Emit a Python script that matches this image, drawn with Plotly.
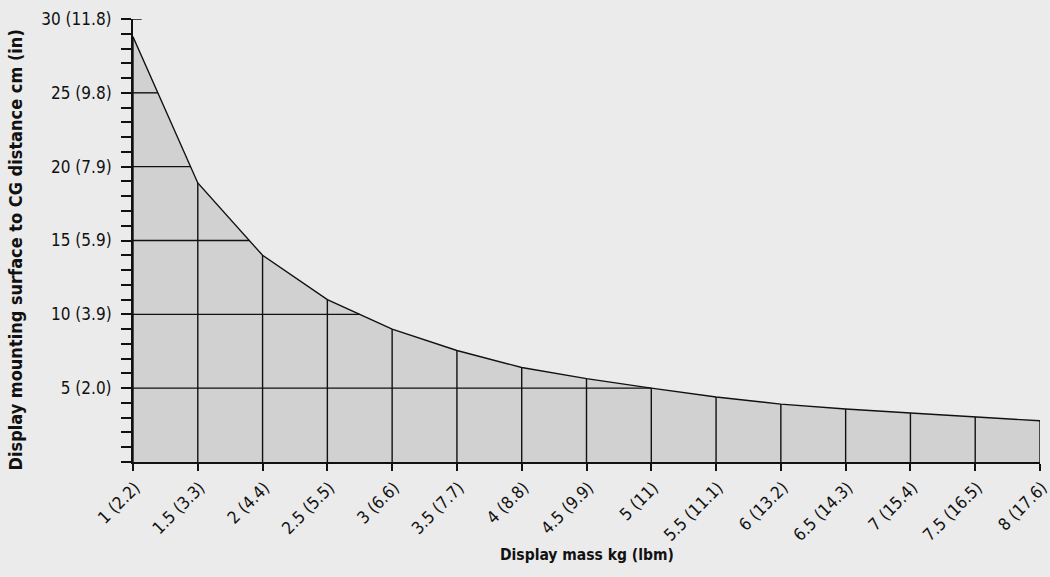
import numpy as np
import plotly.graph_objects as go

# Data
mass_kg = [1, 1.5, 2, 2.5, 3, 3.5, 4, 4.5, 5, 5.5, 6, 6.5, 7, 7.5, 8]
mass_labels = ["1 (2.2)", "1.5 (3.3)", "2 (4.4)", "2.5 (5.5)", "3 (6.6)", "3.5 (7.7)",
               "4 (8.8)", "4.5 (9.9)", "5 (11)", "5.5 (11.1)", "6 (13.2)", "6.5 (14.3)",
               "7 (15.4)", "7.5 (16.5)", "8 (17.6)"]
cg_distance_cm = [28.8, 18.9, 14.0, 11.0, 9.0, 7.55, 6.4, 5.65, 5.0, 4.4, 3.92, 3.59, 3.32, 3.05, 2.79]
y_major = [5, 10, 15, 20, 25, 30]
y_major_labels = ["5 (2.0)", "10 (3.9)", "15 (5.9)", "20 (7.9)", "25 (9.8)", "30 (11.8)"]
y_ticks_all = list(range(0, 31))

FONT = "DejaVu Sans Condensed, Liberation Sans Narrow, sans-serif"
BG = "#ebebeb"
FILL = "#d1d1d1"

fig = go.Figure()

# filled area
fig.add_trace(go.Scatter(
    x=mass_kg, y=cg_distance_cm, mode="lines", fill="tozeroy",
    fillcolor=FILL, line=dict(color="#111111", width=1.4), hoverinfo="skip",
    showlegend=False))

# grid segments only inside the area
gx, gy = [], []
for xv, yv in zip(mass_kg, cg_distance_cm):
    gx += [xv, xv, None]
    gy += [0, yv, None]
xs_rev = np.array(mass_kg[::-1], dtype=float)
ys_rev = np.array(cg_distance_cm[::-1], dtype=float)
for yv in y_major:
    if yv < max(cg_distance_cm):
        xe = float(np.interp(yv, ys_rev, xs_rev))
        gx += [mass_kg[0], xe, None]
        gy += [yv, yv, None]
fig.add_trace(go.Scatter(x=gx, y=gy, mode="lines",
                         line=dict(color="#111111", width=1.4),
                         hoverinfo="skip", showlegend=False))

ytext = [y_major_labels[y_major.index(v)] if v in y_major else "" for v in y_ticks_all]

fig.update_layout(
    width=1050, height=577,
    margin=dict(l=133, r=10, t=19, b=115),
    paper_bgcolor=BG, plot_bgcolor=BG,
    font=dict(family=FONT, size=17, color="#111111"),
    xaxis=dict(range=[1, 8], tickvals=mass_kg, ticktext=mass_labels,
               tickangle=-45, ticks="outside", ticklen=7, tickwidth=1.5,
               tickcolor="#111111", showline=True, linecolor="#111111",
               linewidth=2, showgrid=False, zeroline=False, automargin=False,
               ticklabeloverflow="allow",
               ticklabelstandoff=0, ticklabelshift=2, tickfont=dict(size=17)),
    yaxis=dict(range=[0, 30], tickvals=y_ticks_all, ticktext=ytext,
               ticks="outside", ticklen=10, tickwidth=1.5, tickcolor="#111111",
               showline=True, linecolor="#111111", linewidth=2, automargin=False,
               showgrid=False, zeroline=False, ticklabelstandoff=6,
               tickfont=dict(size=17)),
    shapes=[dict(type="line", xref="x domain", yref="y", x0=0, x1=0.0096,
                 y0=30, y1=30, line=dict(color="#111111", width=1.5))],
    annotations=[
        dict(text="<b>Display mass kg (lbm)</b>", xref="paper", yref="paper",
             x=0.5, y=0, yanchor="middle", yshift=-93, showarrow=False,
             font=dict(size=15.5)),
        dict(text="<b>Display mounting surface to CG distance cm (in)</b>",
             xref="paper", yref="paper", x=0, y=0.5, xanchor="center",
             xshift=-118, yshift=-10, textangle=-90, showarrow=False,
             font=dict(size=18)),
    ],
)

fig.write_html("out.html", config={"displayModeBar": False},
               post_script="document.body.style.margin='0';document.body.style.overflow='hidden';")
